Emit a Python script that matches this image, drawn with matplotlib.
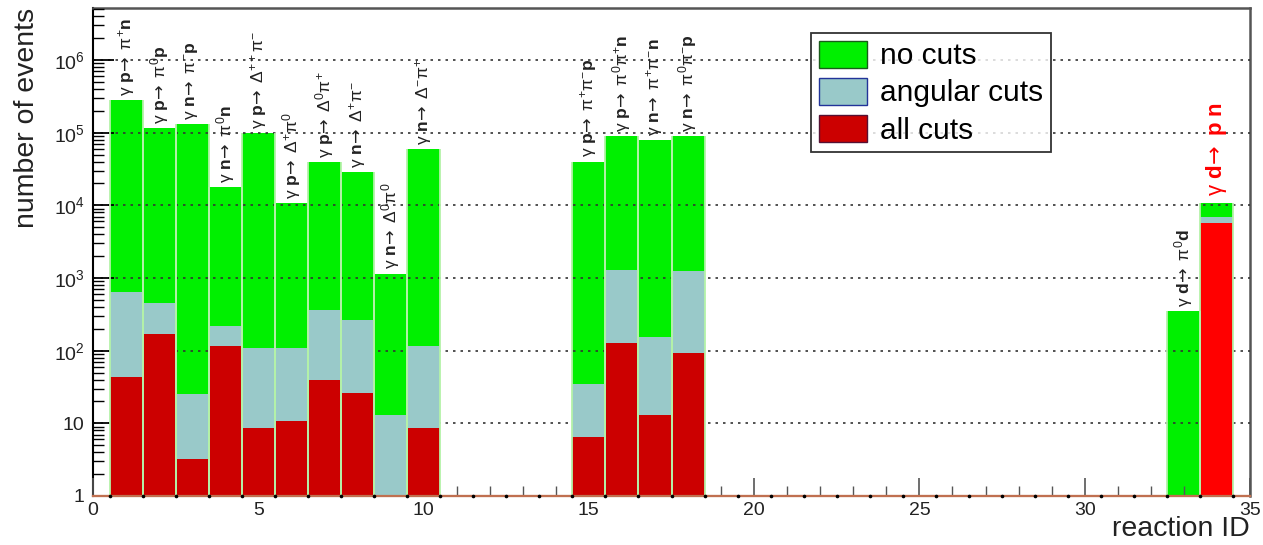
import matplotlib
matplotlib.use("Agg")
import matplotlib.pyplot as plt
import numpy as np
from matplotlib.patches import Patch
from matplotlib.ticker import FixedLocator, FixedFormatter

plt.rcParams['font.family'] = ['Liberation Sans', 'DejaVu Sans']
plt.rcParams['mathtext.fontset'] = 'custom'
plt.rcParams['mathtext.rm'] = 'Liberation Sans'
plt.rcParams['mathtext.bf'] = 'Liberation Sans:bold'
plt.rcParams['mathtext.it'] = 'Liberation Sans:italic'
plt.rcParams['mathtext.sf'] = 'DejaVu Sans'
plt.rcParams['mathtext.default'] = 'regular'

# reaction IDs and event counts
ids = [1, 2, 3, 4, 5, 6, 7, 8, 9, 10, 15, 16, 17, 18, 33, 34]
no_cuts = [2.8e5, 1.17e5, 1.3e5, 1.8e4, 1.0e5, 1.07e4, 3.9e4, 2.9e4, 1.15e3, 6.0e4,
           4.0e4, 8.9e4, 8.0e4, 8.9e4, 350, 1.07e4]
angular_cuts = [645, 455, 25, 220, 110, 110, 365, 265, 12.9, 117,
                35, 1290, 155, 1250, 0, 6.9e3]
all_cuts = [44, 170, 3.2, 117, 8.5, 10.6, 39, 26, 0, 8.5,
            6.4, 129, 12.9, 94, 0, 5.7e3]
labels = [
    r'$\gamma\ \mathbf{p}\!\mathsf{\rightarrow}\ \pi^{+}\mathbf{n}$',
    r'$\gamma\ \mathbf{p}\!\mathsf{\rightarrow}\ \pi^{0}\mathbf{p}$',
    r'$\gamma\ \mathbf{n}\!\mathsf{\rightarrow}\ \pi^{-}\mathbf{p}$',
    r'$\gamma\ \mathbf{n}\!\mathsf{\rightarrow}\ \pi^{0}\mathbf{n}$',
    r'$\gamma\ \mathbf{p}\!\mathsf{\rightarrow}\ \Delta^{++}\pi^{-}$',
    r'$\gamma\ \mathbf{p}\!\mathsf{\rightarrow}\ \Delta^{+}\pi^{0}$',
    r'$\gamma\ \mathbf{p}\!\mathsf{\rightarrow}\ \Delta^{0}\pi^{+}$',
    r'$\gamma\ \mathbf{n}\!\mathsf{\rightarrow}\ \Delta^{+}\pi^{-}$',
    r'$\gamma\ \mathbf{n}\!\mathsf{\rightarrow}\ \Delta^{0}\pi^{0}$',
    r'$\gamma\ \mathbf{n}\!\mathsf{\rightarrow}\ \Delta^{-}\pi^{+}$',
    r'$\gamma\ \mathbf{p}\!\mathsf{\rightarrow}\ \pi^{+}\pi^{-}\mathbf{p}$',
    r'$\gamma\ \mathbf{p}\!\mathsf{\rightarrow}\ \pi^{0}\pi^{+}\mathbf{n}$',
    r'$\gamma\ \mathbf{n}\!\mathsf{\rightarrow}\ \pi^{+}\pi^{-}\mathbf{n}$',
    r'$\gamma\ \mathbf{n}\!\mathsf{\rightarrow}\ \pi^{0}\pi^{-}\mathbf{p}$',
    r'$\gamma\ \mathbf{d}\!\mathsf{\rightarrow}\ \pi^{0}\mathbf{d}$',
    r'$\gamma\ \mathbf{d}\!\mathsf{\rightarrow}\ \mathbf{p}\ \mathbf{n}$',
]
highlight = 34

green = '#00f000'
grey_blue = '#99c9c9'
dark_red = '#cc0000'
bright_red = '#ff0000'

fig = plt.figure(figsize=(12.63, 5.45), dpi=100)
ax = fig.add_axes([93 / 1263, 1 - 496 / 545, 1157 / 1263, 488 / 545])
ax.set_yscale('log')

red_cols = [bright_red if i == highlight else dark_red for i in ids]

ax.bar(ids, no_cuts, width=1, color=green, linewidth=0, zorder=2)
ax.bar(ids, angular_cuts, width=1, color=grey_blue, linewidth=0, zorder=3)
ax.bar(ids, all_cuts, width=1, color=red_cols, linewidth=0, zorder=4)

# thin light separators between bins
for i, v in zip(ids, no_cuts):
    ax.vlines([i - 0.5, i + 0.5], 1, v, color='#b4f2a8', lw=1.3, zorder=5)

# baseline of empty bins
ax.axhline(1, color='#c07050', lw=1.6, zorder=6, clip_on=False)
ax.plot(np.arange(0.5, 35, 1.0), np.ones(35), 'o', color='black', ms=1.6, zorder=7,
        clip_on=False)

# reaction labels
for i, v, lab in zip(ids, no_cuts, labels):
    if i == highlight:
        ax.annotate(lab, (i, v), xytext=(0, 5), textcoords='offset points',
                    rotation=90, ha='center', va='bottom', fontsize=16,
                    color=bright_red, zorder=8)
    else:
        ax.annotate(lab, (i, v), xytext=(0, 3), textcoords='offset points',
                    rotation=90, ha='center', va='bottom', fontsize=12.5,
                    color='#222222', zorder=8)

ax.set_xlim(0, 35)
ax.set_ylim(1, 5.2e6)

ax.set_xticks(np.arange(0, 36, 5))
ax.set_xticks(np.arange(0, 36, 1), minor=True)
ax.tick_params(axis='x', which='major', direction='in', length=13, width=1.2,
               labelsize=14, pad=4, top=False, colors='#555555', labelcolor='#222222')
ax.tick_params(axis='x', which='minor', direction='in', length=7, width=1,
               top=False, colors='#555555')

decades = [1, 10, 1e2, 1e3, 1e4, 1e5, 1e6]
ax.yaxis.set_major_locator(FixedLocator(decades))
ax.yaxis.set_major_formatter(FixedFormatter(
    ['1', '10', r'$10^{2}$', r'$10^{3}$', r'$10^{4}$', r'$10^{5}$', r'$10^{6}$']))
ax.tick_params(axis='y', which='major', direction='in', length=15, width=1.3,
               labelsize=14, pad=6, right=False, labelcolor='#222222')
ax.tick_params(axis='y', which='minor', direction='in', length=8, width=1,
               right=False)

ax.grid(axis='y', which='major', linestyle=(0, (1.5, 3)), color='#333333', lw=1.2)
ax.set_axisbelow(False)

ax.spines['left'].set_color('black')
ax.spines['left'].set_linewidth(1.5)
ax.spines['bottom'].set_color('#c07050')
ax.spines['bottom'].set_linewidth(1.5)
for s in ['top', 'right']:
    ax.spines[s].set_color('#555555')
    ax.spines[s].set_linewidth(1.8)

ax.set_ylabel('number of events', fontsize=20.5, loc='top', color='#222222', labelpad=10)
ax.set_xlabel('reaction ID', fontsize=20.5, loc='right', color='#222222', labelpad=-2)

handles = [Patch(facecolor=green, edgecolor='#1a5c1a', label='no cuts'),
           Patch(facecolor=grey_blue, edgecolor='#223399', label='angular cuts'),
           Patch(facecolor=dark_red, edgecolor='#551133', label='all cuts')]
leg = ax.legend(handles=handles, loc='upper left', bbox_to_anchor=(0.621, 0.948),
                fontsize=21.5, frameon=True, fancybox=False, borderpad=0.25,
                handlelength=1.6, handleheight=1.0, handletextpad=0.45,
                labelspacing=0.25, borderaxespad=0)
leg.get_frame().set_edgecolor('black')
leg.get_frame().set_linewidth(1.3)
leg.set_zorder(10)

fig.savefig('out.png', dpi=100)
